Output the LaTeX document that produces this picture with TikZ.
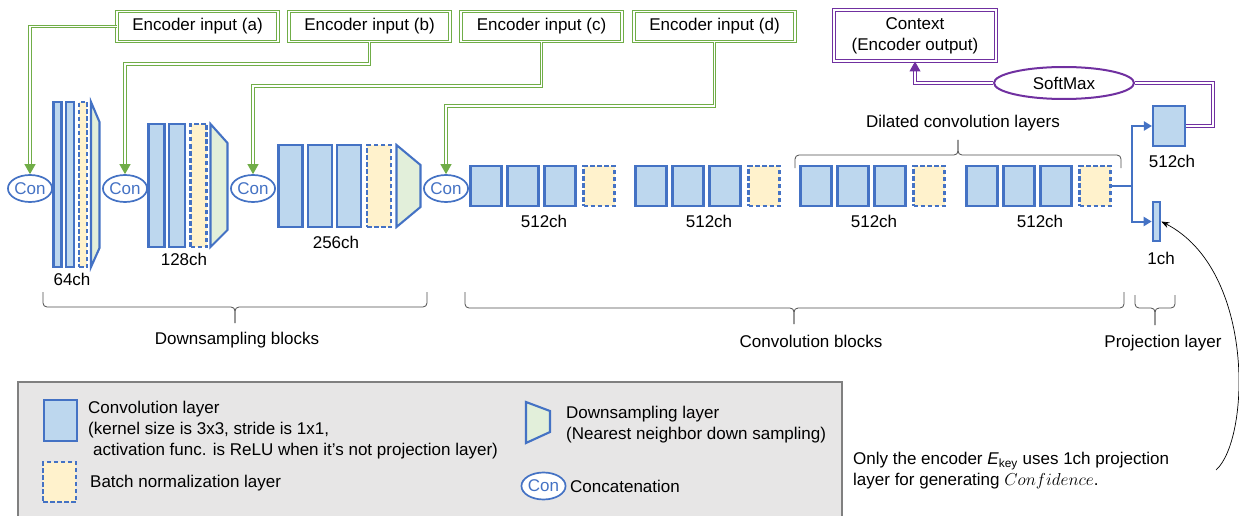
\documentclass[tikz,border=0pt]{standalone}
\usepackage{fontspec}
\setmainfont{Liberation Sans}
\usetikzlibrary{shapes.geometric}
\usetikzlibrary{arrows.meta}
\definecolor{convblue}{HTML}{4472C4}
\definecolor{convfill}{HTML}{BDD7EE}
\definecolor{bnfill}{HTML}{FFF2CC}
\definecolor{dsfill}{HTML}{E2EFDA}
\definecolor{inpgreen}{HTML}{70AD47}
\definecolor{ctxpurple}{HTML}{7030A0}
\definecolor{legendgray}{HTML}{E7E6E6}

\begin{document}
\begin{tikzpicture}[x=1pt, y=-1pt, font=\fontsize{17}{21}\selectfont, >={Triangle[width=11pt,length=10pt]}]
				\tikzstyle{conv}=[draw=convblue, fill=convfill, line width=2.1pt, inner sep=0pt]
				\tikzstyle{bnorm}=[conv, fill=bnfill, dash pattern=on 4.5pt off 2.5pt]
				\tikzstyle{dsamp}=[draw=convblue, fill=dsfill, line width=2.1pt]
				\tikzstyle{concat}=[ellipse, draw=convblue, fill=white, line width=1.7pt, text=convblue, minimum width=41pt, minimum height=27pt, inner sep=0pt]
				\tikzstyle{enc input}=[draw=inpgreen, double=white, double distance=1.6pt, line width=1pt, minimum width=161pt, minimum height=30pt, inner sep=0pt]
				\tikzstyle{ctx box}=[enc input, draw=ctxpurple, minimum width=162pt, minimum height=51pt, align=center]
				\tikzstyle{green link}=[draw=inpgreen, double=white, double distance=1.6pt, line width=1pt]
				\tikzstyle{purple link}=[green link, draw=ctxpurple]
				\tikzstyle{proj link}=[draw=convblue, line width=2pt, -{Triangle[width=9pt,length=8pt]}]
				\tikzstyle{bracket}=[draw=black!70, line width=0.8pt, rounded corners=4pt]
				\tikzstyle{annot}=[inner sep=0pt]
				
				\useasboundingbox (0,0) rectangle (1239,516);
				
				% Draw the encoder inputs
				\foreach \name/\x in {a/197.5, b/369.5, c/541.5, d/714.5}
				\node[enc input] (In-\name) at (\x,26.5) {Encoder input (\name)};
				
				% Draw the concatenations
				\foreach \name/\x in {1/30, 2/125, 3/253, 4/446}
				\node[concat] (Con-\name) at (\x,188.5) {Con};
				
				% Downsampling block n.1
				\foreach \name/\x in {1/57.5, 2/70}
				\node[conv, minimum width=8pt, minimum height=165pt] (D1-\name) at (\x,184.5) {};
				\node[bnorm, minimum width=8pt, minimum height=165pt] (D1-bn) at (83,184.5) {};
				\draw[dsamp] (91,102) -- (99.5,122) -- (99.5,248) -- (91,267) -- cycle;
				\node[annot] (D1-ch) at (72,279) {64ch};
				
				% Downsampling block n.2
				\foreach \name/\x in {1/156.5, 2/177}
				\node[conv, minimum width=16pt, minimum height=123pt] (D2-\name) at (\x,185.5) {};
				\node[bnorm, minimum width=16pt, minimum height=123pt] (D2-bn) at (198.5,185.5) {};
				\draw[dsamp] (210.5,124) -- (227.5,143) -- (227.5,230) -- (210.5,247) -- cycle;
				\node[annot] (D2-ch) at (184,259) {128ch};
				
				% Downsampling block n.3
				\foreach \name/\x in {1/290.5, 2/320, 3/349}
				\node[conv, minimum width=24pt, minimum height=82pt] (D3-\name) at (\x,186) {};
				\node[bnorm, minimum width=24pt, minimum height=82pt] (D3-bn) at (379,186) {};
				\draw[dsamp] (396.5,145) -- (420.5,165) -- (420.5,207) -- (396.5,227) -- cycle;
				\node[annot] (D3-ch) at (336,242) {256ch};
				
				% Draw the convolution blocks
				\foreach \blk/\bx in {1/469, 2/634, 3/799, 4/965} {
					\foreach \name/\dx in {1/17, 2/54, 3/91}
					\node[conv, minimum width=31pt, minimum height=40pt] (C\blk-\name) at (\bx+\dx,186) {};
					\node[bnorm, minimum width=31pt, minimum height=40pt] (C\blk-bn) at (\bx+130,186) {};
					\node[annot] (C\blk-ch) at (\bx+75,221) {512ch};
				}
				
				% Projection layer
				\node[conv, minimum width=32pt, minimum height=40pt] (P-512) at (1169,126) {};
				\node[annot] (P-512-ch) at (1172,161) {512ch};
				\node[conv, minimum width=7.5pt, minimum height=39pt] (P-1) at (1156.5,221.5) {};
				\node[annot] (P-1-ch) at (1161,258) {1ch};
				
				% Context and softmax
				\node[ctx box] (Ctx) at (915,35.5) {Context\\(Encoder output)};
				\node[ellipse, draw=ctxpurple, line width=2pt, fill=white, minimum width=140pt, minimum height=32pt, inner sep=0pt] (SoftMax) at (1064,83) {SoftMax};
				
				% Connect inputs
				\draw[green link, ->] (In-a.west) -| (Con-1.north);
				\draw[green link, ->] (In-b.south) -- ++(0,22) -| (Con-2.north);
				\draw[green link, ->] (In-c.south) -- ++(0,44) -| (Con-3.north);
				\draw[green link, ->] (In-d.south) -- ++(0,64) -| (Con-4.north);
				
				% Connect projection
				\draw[draw=convblue, line width=2pt] (C4-bn.east) -- ++(20,0) coordinate (Split);
				\draw[proj link] (Split) |- (P-512.west);
				\draw[proj link] (Split) |- (P-1.west);
				
				% Connect context
				\draw[purple link] (P-512.east) -- ++(27,0) |- (SoftMax.east);
				\draw[purple link, ->] (SoftMax.west) -| (Ctx.south);
				
				% Annotate the blocks
				\draw[bracket] (795,168) |- (958,155) -- (958,140);
				\draw[bracket] (958,140) -- (958,155) -| (1121,168);
				\node[annot] (Dil) at (963,123) {Dilated convolution layers};
				
				\draw[bracket] (43,292) |- (235,307) -- (235,323);
				\draw[bracket] (235,323) -- (235,307) -| (427,292);
				\node[annot] (DsB) at (237,340) {Downsampling blocks};
				
				\draw[bracket] (465,292) |- (794,308) -- (794,324);
				\draw[bracket] (794,324) -- (794,308) -| (1124,292);
				\node[annot] (CvB) at (811,341) {Convolution blocks};
				
				\draw[bracket] (1135,295) |- (1155,308) -- (1155,325);
				\draw[bracket] (1155,325) -- (1155,308) -| (1175,295);
				\node[annot] (PrL) at (1163,343) {Projection layer};
				
				% Legend
				\draw[draw=black!50, fill=legendgray, line width=1.2pt] (18,382) rectangle (842,530);
				\node[conv, minimum width=33pt, minimum height=41pt] (L-conv) at (60.5,420.5) {};
				\node[annot, anchor=west, align=left] (L-conv-txt) at (88,430) {Convolution layer\\(kernel size is 3x3, stride is 1x1,\\\hspace{5pt}activation func. is ReLU when it’s not projection layer)};
				\node[bnorm, minimum width=33pt, minimum height=40pt] (L-bn) at (59.5,482) {};
				\node[annot, anchor=west] (L-bn-txt) at (90,483) {Batch normalization layer};
				\draw[dsamp] (526,402) -- (550,411) -- (550,432) -- (526,443) -- cycle;
				\node[annot, anchor=west, align=left] (L-ds-txt) at (566,424.5) {Downsampling layer\\(Nearest neighbor down sampling)};
				\node[concat] (L-con) at (543.5,486) {Con};
				\node[annot, anchor=west] (L-con-txt) at (570,486) {Concatenation};
				
				% Note on the 1ch projection
				\node[annot, anchor=west, align=left] (Note) at (853,470.5) {Only the encoder \textit{E}\textsubscript{key} uses 1ch projection\\layer for generating $Confidence$.};
				\coordinate (Note-end) at (1216,470);
				\draw[-{Stealth[length=8pt,width=6pt]}, line width=0.7pt] (Note-end) .. controls (1250,440) and (1256,270) .. (P-1.east);
				
			\end{tikzpicture}
\end{document}
